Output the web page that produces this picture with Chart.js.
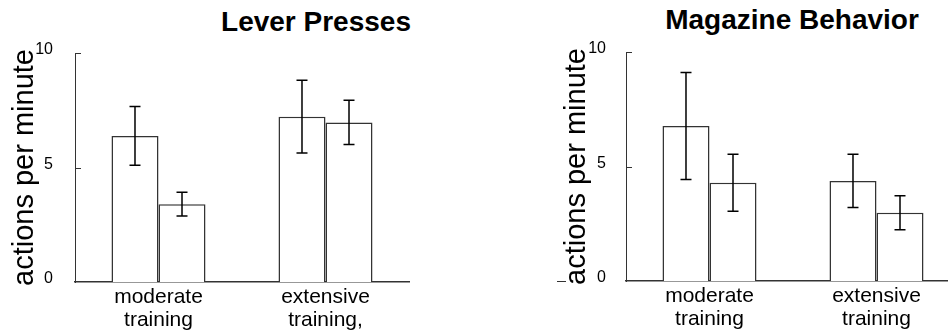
<!DOCTYPE html>
<html>
<head>
<meta charset="utf-8">
<script src="https://cdn.jsdelivr.net/npm/chart.js@4.4.0/dist/chart.umd.min.js"></script>
<style>
html, body { margin:0; padding:0; background:#fff; width:948px; height:335px; overflow:hidden; position:relative; }
.box { position:absolute; top:0; height:335px; }
.ttl { position:absolute; font: bold 28px 'Liberation Sans', Arial, sans-serif; line-height:28px; white-space:nowrap; transform:translateX(-50%); color:#000; }
</style>
</head>
<body>
<div class="ttl" style="left:316px; top:8px">Lever Presses</div>
<div class="ttl" style="left:792px; top:6px">Magazine Behavior</div>
<div class="box" style="left:0; width:474px"><canvas id="lever"></canvas></div>
<div class="box" style="left:474px; width:500px"><canvas id="mag"></canvas></div>
<div style="position:absolute; left:557px; top:281px; width:9px; height:1px; background:#333"></div>
<script>
// values
var leverLabels = [['moderate', 'training'], ['extensive', 'training,']];
var magLabels = [['moderate', 'training'], ['extensive', 'training']];
var yTicks = [0, 5, 10];

var leverFirst = [6.38, 7.22];
var leverFirstErr = [1.28, 1.59];
var leverSecond = [3.40, 6.97];
var leverSecondErr = [0.52, 0.97];

var magFirst = [6.77, 4.37];
var magFirstErr = [2.34, 1.16];
var magSecond = [4.29, 2.98];
var magSecondErr = [1.24, 0.74];

var errorBars = {
  id: 'errorBars',
  afterDatasetsDraw: function(chart) {
    var ctx = chart.ctx, y = chart.scales.y;
    ctx.save();
    ctx.strokeStyle = '#000';
    ctx.lineWidth = 1.5;
    chart.data.datasets.forEach(function(ds, i) {
      chart.getDatasetMeta(i).data.forEach(function(bar, j) {
        var hi = y.getPixelForValue(ds.data[j] + ds.errors[j]);
        var lo = y.getPixelForValue(ds.data[j] - ds.errors[j]);
        ctx.beginPath();
        ctx.moveTo(bar.x, hi); ctx.lineTo(bar.x, lo);
        ctx.moveTo(bar.x - 5.5, hi); ctx.lineTo(bar.x + 5.5, hi);
        ctx.moveTo(bar.x - 5.5, lo); ctx.lineTo(bar.x + 5.5, lo);
        ctx.stroke();
      });
    });
    ctx.restore();
  }
};

// small tick marks pointing into the plot
var innerTicks = {
  id: 'innerTicks',
  afterDraw: function(chart) {
    var ctx = chart.ctx, y = chart.scales.y, x0 = chart.chartArea.left;
    ctx.save();
    ctx.strokeStyle = '#333';
    ctx.lineWidth = 1;
    y.ticks.forEach(function(t) {
      if (t.value <= 0) return;
      var py = Math.round(y.getPixelForValue(t.value)) + 0.5;
      ctx.beginPath();
      ctx.moveTo(x0, py); ctx.lineTo(x0 + 6, py);
      ctx.stroke();
    });
    ctx.restore();
  }
};

function makeChart(id, labels, first, firstErr, second, secondErr, pad, yWidth, xHeight, tickPad, titlePad) {
  var ctx = document.getElementById(id).getContext('2d');
  return new Chart(ctx, {
    type: 'bar',
    data: {
      labels: labels,
      datasets: [{
        data: first,
        errors: firstErr,
        backgroundColor: '#fff',
        borderColor: '#333',
        borderWidth: 1.5
      }, {
        data: second,
        errors: secondErr,
        backgroundColor: '#fff',
        borderColor: '#333',
        borderWidth: 1.5
      }]
    },
    options: {
      responsive: true,
      maintainAspectRatio: false,
      animation: false,
      events: [],
      layout: { padding: pad },
      datasets: { bar: { barPercentage: 1, categoryPercentage: 0.563 } },
      plugins: { legend: { display: false }, tooltip: { enabled: false } },
      scales: {
        x: {
          grid: { display: false, drawTicks: false },
          border: { color: '#333', width: 1.5 },
          ticks: {
            color: '#000',
            padding: 4,
            maxRotation: 0,
            font: { family: "'Liberation Sans', Arial, sans-serif", size: 21, lineHeight: 1.08 }
          },
          afterFit: function(s) { s.height = xHeight; }
        },
        y: {
          min: 0,
          max: 10,
          grid: { display: false, drawTicks: false },
          border: { color: '#333', width: 1 },
          afterBuildTicks: function(s) { s.ticks = yTicks.map(function(v) { return { value: v }; }); },
          ticks: {
            color: '#000',
            padding: tickPad,
            labelOffset: -3,
            font: { family: "'Liberation Sans', Arial, sans-serif", size: 16 }
          },
          title: {
            display: true,
            text: 'actions per minute',
            color: '#000',
            padding: { top: titlePad, bottom: 0 },
            font: { family: "'Liberation Sans', Arial, sans-serif", size: 29, lineHeight: 1 }
          },
          afterFit: function(s) { s.width = yWidth; }
        }
      }
    },
    plugins: [errorBars, innerTicks]
  });
}

makeChart('lever', leverLabels, leverFirst, leverFirstErr, leverSecond, leverSecondErr,
  { top: 53, right: 65, left: 0, bottom: 0 }, 75, 53, 22, 10);
makeChart('mag', magLabels, magFirst, magFirstErr, magSecond, magSecondErr,
  { top: 52, right: 14, left: 78, bottom: 0 }, 74, 54, 20, 10);
</script>
</body>
</html>
